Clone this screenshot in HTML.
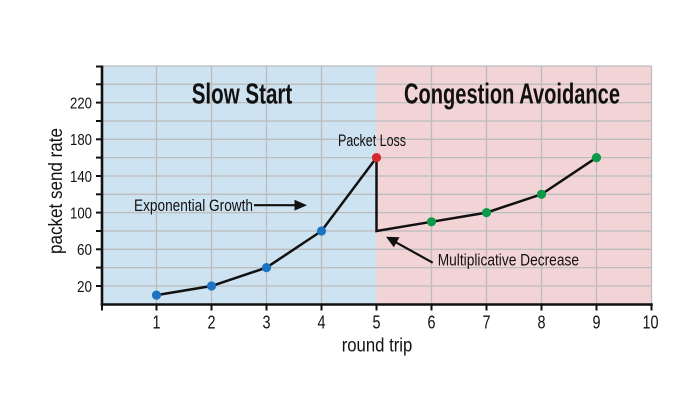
<!DOCTYPE html>
<html>
<head>
<meta charset="utf-8">
<style>
html,body{margin:0;padding:0;background:#fff;}
svg{display:block;}
text{font-family:"Liberation Sans Narrow","Liberation Sans",sans-serif;fill:#111;}
</style>
</head>
<body>
<svg width="700" height="400" viewBox="0 0 700 400" xmlns="http://www.w3.org/2000/svg">
  <!-- backgrounds -->
  <rect x="101.5" y="66" width="275" height="238.3" fill="#cde3f1"/>
  <rect x="376.5" y="66" width="275" height="238.3" fill="#f3d4d6"/>
  <!-- grid -->
  <g stroke="#bcbcbc" stroke-width="1.3" fill="none">
    <line x1="101.5" y1="66" x2="651.5" y2="66"/>
    <line x1="101.5" y1="84.3" x2="651.5" y2="84.3"/>
    <line x1="101.5" y1="102.6" x2="651.5" y2="102.6"/>
    <line x1="101.5" y1="121" x2="651.5" y2="121"/>
    <line x1="101.5" y1="139.3" x2="651.5" y2="139.3"/>
    <line x1="101.5" y1="157.6" x2="651.5" y2="157.6"/>
    <line x1="101.5" y1="176" x2="651.5" y2="176"/>
    <line x1="101.5" y1="194.3" x2="651.5" y2="194.3"/>
    <line x1="101.5" y1="212.6" x2="651.5" y2="212.6"/>
    <line x1="101.5" y1="231" x2="651.5" y2="231"/>
    <line x1="101.5" y1="249.3" x2="651.5" y2="249.3"/>
    <line x1="101.5" y1="267.6" x2="651.5" y2="267.6"/>
    <line x1="101.5" y1="286" x2="651.5" y2="286"/>
    <line x1="156.5" y1="66" x2="156.5" y2="304"/>
    <line x1="211.5" y1="66" x2="211.5" y2="304"/>
    <line x1="266.5" y1="66" x2="266.5" y2="304"/>
    <line x1="321.5" y1="66" x2="321.5" y2="304"/>
    <line x1="431.5" y1="66" x2="431.5" y2="304"/>
    <line x1="486.5" y1="66" x2="486.5" y2="304"/>
    <line x1="541.5" y1="66" x2="541.5" y2="304"/>
    <line x1="596.5" y1="66" x2="596.5" y2="304"/>
    <line x1="651.5" y1="66" x2="651.5" y2="304"/>
  </g>
  <!-- axes -->
  <g stroke="#111" stroke-width="2.6" fill="none">
    <line x1="102" y1="65.5" x2="102" y2="305.5"/>
    <line x1="100.7" y1="304.5" x2="652.8" y2="304.5"/>
  </g>
  <g stroke="#111" stroke-width="2" fill="none">
    <line x1="96" y1="66.5" x2="102" y2="66.5"/>
    <line x1="96" y1="84.3" x2="102" y2="84.3"/>
    <line x1="96" y1="102.6" x2="102" y2="102.6"/>
    <line x1="96" y1="121" x2="102" y2="121"/>
    <line x1="96" y1="139.3" x2="102" y2="139.3"/>
    <line x1="96" y1="157.6" x2="102" y2="157.6"/>
    <line x1="96" y1="176" x2="102" y2="176"/>
    <line x1="96" y1="194.3" x2="102" y2="194.3"/>
    <line x1="96" y1="212.6" x2="102" y2="212.6"/>
    <line x1="96" y1="231" x2="102" y2="231"/>
    <line x1="96" y1="249.3" x2="102" y2="249.3"/>
    <line x1="96" y1="267.6" x2="102" y2="267.6"/>
    <line x1="96" y1="286" x2="102" y2="286"/>
    <line x1="102" y1="304" x2="102" y2="310.5"/>
    <line x1="156.5" y1="304" x2="156.5" y2="310.5"/>
    <line x1="211.5" y1="304" x2="211.5" y2="310.5"/>
    <line x1="266.5" y1="304" x2="266.5" y2="310.5"/>
    <line x1="321.5" y1="304" x2="321.5" y2="310.5"/>
    <line x1="376.5" y1="304" x2="376.5" y2="310.5"/>
    <line x1="431.5" y1="304" x2="431.5" y2="310.5"/>
    <line x1="486.5" y1="304" x2="486.5" y2="310.5"/>
    <line x1="541.5" y1="304" x2="541.5" y2="310.5"/>
    <line x1="596.5" y1="304" x2="596.5" y2="310.5"/>
    <line x1="651.5" y1="304" x2="651.5" y2="310.5"/>
  </g>
  <!-- y tick labels -->
  <g font-size="16" text-anchor="end">
    <text x="92" y="108.4" textLength="22" lengthAdjust="spacingAndGlyphs">220</text>
    <text x="92" y="145.1" textLength="22" lengthAdjust="spacingAndGlyphs">180</text>
    <text x="92" y="181.8" textLength="22" lengthAdjust="spacingAndGlyphs">140</text>
    <text x="92" y="218.4" textLength="22" lengthAdjust="spacingAndGlyphs">100</text>
    <text x="92" y="255.1" textLength="15" lengthAdjust="spacingAndGlyphs">60</text>
    <text x="92" y="291.8" textLength="15" lengthAdjust="spacingAndGlyphs">20</text>
  </g>
  <!-- x tick labels -->
  <g font-size="18" text-anchor="middle">
    <text x="156.5" y="328.5" textLength="8" lengthAdjust="spacingAndGlyphs">1</text>
    <text x="211.5" y="328.5" textLength="8" lengthAdjust="spacingAndGlyphs">2</text>
    <text x="266.5" y="328.5" textLength="8" lengthAdjust="spacingAndGlyphs">3</text>
    <text x="321.5" y="328.5" textLength="8" lengthAdjust="spacingAndGlyphs">4</text>
    <text x="376.5" y="328.5" textLength="8" lengthAdjust="spacingAndGlyphs">5</text>
    <text x="431.5" y="328.5" textLength="8" lengthAdjust="spacingAndGlyphs">6</text>
    <text x="486.5" y="328.5" textLength="8" lengthAdjust="spacingAndGlyphs">7</text>
    <text x="541.5" y="328.5" textLength="8" lengthAdjust="spacingAndGlyphs">8</text>
    <text x="596.5" y="328.5" textLength="8" lengthAdjust="spacingAndGlyphs">9</text>
    <text x="650.5" y="328.5" textLength="16" lengthAdjust="spacingAndGlyphs">10</text>
  </g>
  <!-- axis titles -->
  <text x="377" y="351.7" font-size="19" text-anchor="middle" textLength="70.6" lengthAdjust="spacingAndGlyphs">round trip</text>
  <text transform="translate(62,191) rotate(-90)" x="0" y="0" font-size="19" text-anchor="middle" textLength="126" lengthAdjust="spacingAndGlyphs">packet send rate</text>
  <!-- region titles -->
  <text x="191.7" y="103.3" font-size="29" font-weight="bold" textLength="100.6" lengthAdjust="spacingAndGlyphs">Slow Start</text>
  <text x="404" y="103.3" font-size="29" font-weight="bold" textLength="216" lengthAdjust="spacingAndGlyphs">Congestion Avoidance</text>
  <!-- annotations -->
  <text x="338" y="146" font-size="17" textLength="68" lengthAdjust="spacingAndGlyphs">Packet Loss</text>
  <text x="134" y="211" font-size="16.5" textLength="119" lengthAdjust="spacingAndGlyphs">Exponential Growth</text>
  <text x="437.7" y="265.7" font-size="17" textLength="141.3" lengthAdjust="spacingAndGlyphs">Multiplicative Decrease</text>
  <line x1="254" y1="205.2" x2="297" y2="205.2" stroke="#111" stroke-width="2.2"/>
  <polygon points="307,205.2 294.5,199.8 294.5,210.6" fill="#111"/>
  <line x1="432.7" y1="262.7" x2="395" y2="241.8" stroke="#111" stroke-width="2.2"/>
  <polygon points="386,236.7 399.5,237.2 393.8,247.3" fill="#111"/>
  <!-- series -->
  <polyline points="156.5,295.1 211.5,286 266.5,267.6 321.5,231 376.5,157.6 376.5,231 431.5,221.8 486.5,212.6 541.5,194.3 596.5,157.6" fill="none" stroke="#111" stroke-width="2.5" stroke-linejoin="miter"/>
  <g fill="#1a74c2">
    <circle cx="156.5" cy="295.1" r="4.6"/>
    <circle cx="211.5" cy="286" r="4.6"/>
    <circle cx="266.5" cy="267.6" r="4.6"/>
    <circle cx="321.5" cy="231" r="4.6"/>
  </g>
  <circle cx="376.5" cy="157.6" r="4.6" fill="#d6262f"/>
  <g fill="#0b9a4a">
    <circle cx="431.5" cy="221.8" r="4.6"/>
    <circle cx="486.5" cy="212.6" r="4.6"/>
    <circle cx="541.5" cy="194.3" r="4.6"/>
    <circle cx="596.5" cy="157.6" r="4.6"/>
  </g>
</svg>
</body>
</html>
